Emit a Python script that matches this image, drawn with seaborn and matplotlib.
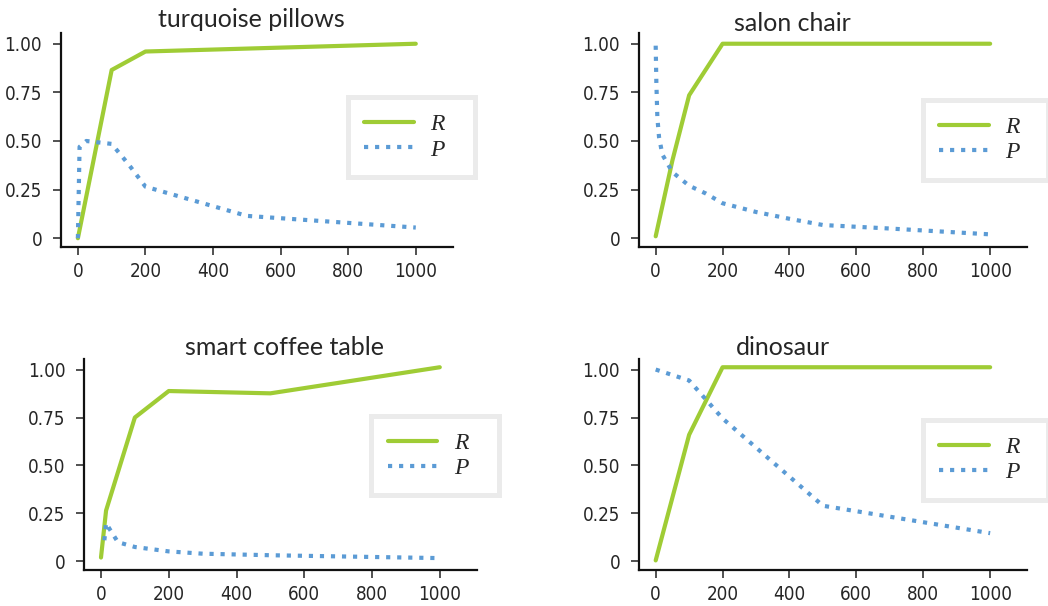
import matplotlib
matplotlib.use('Agg')
import matplotlib.pyplot as plt
import numpy as np
import pandas as pd
import seaborn as sns

# panel titles
titles = ['turquoise pillows', 'salon chair', 'smart coffee table', 'dinosaur']

# recall curves (k, value)
r_x = [
    [0, 100, 200, 1000],
    [0, 50, 100, 200, 1000],
    [0, 15, 100, 200, 500, 1000],
    [0, 100, 200, 1000],
]
r_y = [
    [0.0, 0.865, 0.96, 1.0],
    [0.01, 0.40, 0.735, 1.0, 1.0],
    [0.02, 0.265, 0.75, 0.888, 0.876, 1.012],
    [0.005, 0.66, 1.012, 1.012],
]

# precision curves (k, value)
p_x = [
    [0, 5, 25, 100, 150, 200, 500, 1000],
    [0, 2, 5, 10, 20, 50, 100, 150, 200, 300, 400, 500, 700, 1000],
    [10, 15, 25, 50, 100, 200, 300, 500, 1000],
    [0, 100, 200, 500, 1000],
]
p_y = [
    [0.0, 0.47, 0.50, 0.485, 0.38, 0.265, 0.115, 0.055],
    [0.99, 0.80, 0.62, 0.52, 0.43, 0.34, 0.27, 0.23, 0.18, 0.135, 0.10, 0.068, 0.05, 0.02],
    [0.11, 0.20, 0.17, 0.10, 0.075, 0.052, 0.04, 0.032, 0.017],
    [1.0, 0.943, 0.745, 0.29, 0.147],
]

y_ticks = [0, 0.25, 0.5, 0.75, 1.0]
y_tick_labels = ['0', '0.25', '0.50', '0.75', '1.00']
x_ticks = [0, 200, 400, 600, 800, 1000]

green = '#9fcc35'
blue = '#5b9bd5'

sns.set_style('ticks')
plt.rcParams['font.family'] = ['DejaVu Sans']
plt.rcParams['font.stretch'] = 'condensed'

fig = plt.figure(figsize=(10.48, 6.06), dpi=100)

# axes rectangles and per-panel placement tweaks
rects = [
    [0.0582, 0.5924, 0.3740, 0.3531],
    [0.6097, 0.5924, 0.3702, 0.3531],
    [0.0802, 0.0594, 0.3750, 0.3482],
    [0.6097, 0.0594, 0.3702, 0.3482],
]
title_x = [0.487, 0.396, 0.509, 0.371]
title_y = [1.028, 1.008, 1.019, 1.019]
legend_top = [0.699, 0.687, 0.731, 0.710]

for i in range(4):
    ax = fig.add_axes(rects[i])
    sns.lineplot(x=r_x[i], y=r_y[i], ax=ax, color=green, lw=3, label='R',
                 solid_capstyle='round')
    sns.lineplot(x=p_x[i], y=p_y[i], ax=ax, color=blue, lw=3, linestyle=':',
                 label='P')
    ax.set_xlim(-50, 1110)
    ax.set_ylim(-0.045, 1.055)
    ax.set_xticks(x_ticks)
    ax.set_yticks(y_ticks)
    ax.set_yticklabels(y_tick_labels)
    ax.tick_params(axis='both', labelsize=13.5, length=5.5, width=1.1, color='#222222')
    ax.tick_params(axis='y', pad=8)
    ax.tick_params(axis='x', pad=5)
    for side in ['left', 'bottom']:
        ax.spines[side].set_linewidth(1.6)
        ax.spines[side].set_color('#111111')
    sns.despine(ax=ax)
    ax.text(title_x[i], title_y[i], titles[i], transform=ax.transAxes,
            ha='center', va='baseline', fontsize=18, family=['Lato', 'DejaVu Sans'],
            fontstretch='normal')
    leg = ax.legend(loc='upper left', bbox_to_anchor=(0.731, legend_top[i] - 0.01, 0.324, 0.01),
                    mode='expand', borderaxespad=0, borderpad=0.7, handlelength=2.1,
                    handletextpad=0.7, labelspacing=0.15, fancybox=False,
                    prop={'family': 'Liberation Serif', 'style': 'italic', 'size': 17})
    frame = leg.get_frame()
    frame.set_edgecolor('#ebebeb')
    frame.set_linewidth(3.6)
    frame.set_facecolor('white')
    frame.set_alpha(1)

fig.savefig('out.png', dpi=100)
